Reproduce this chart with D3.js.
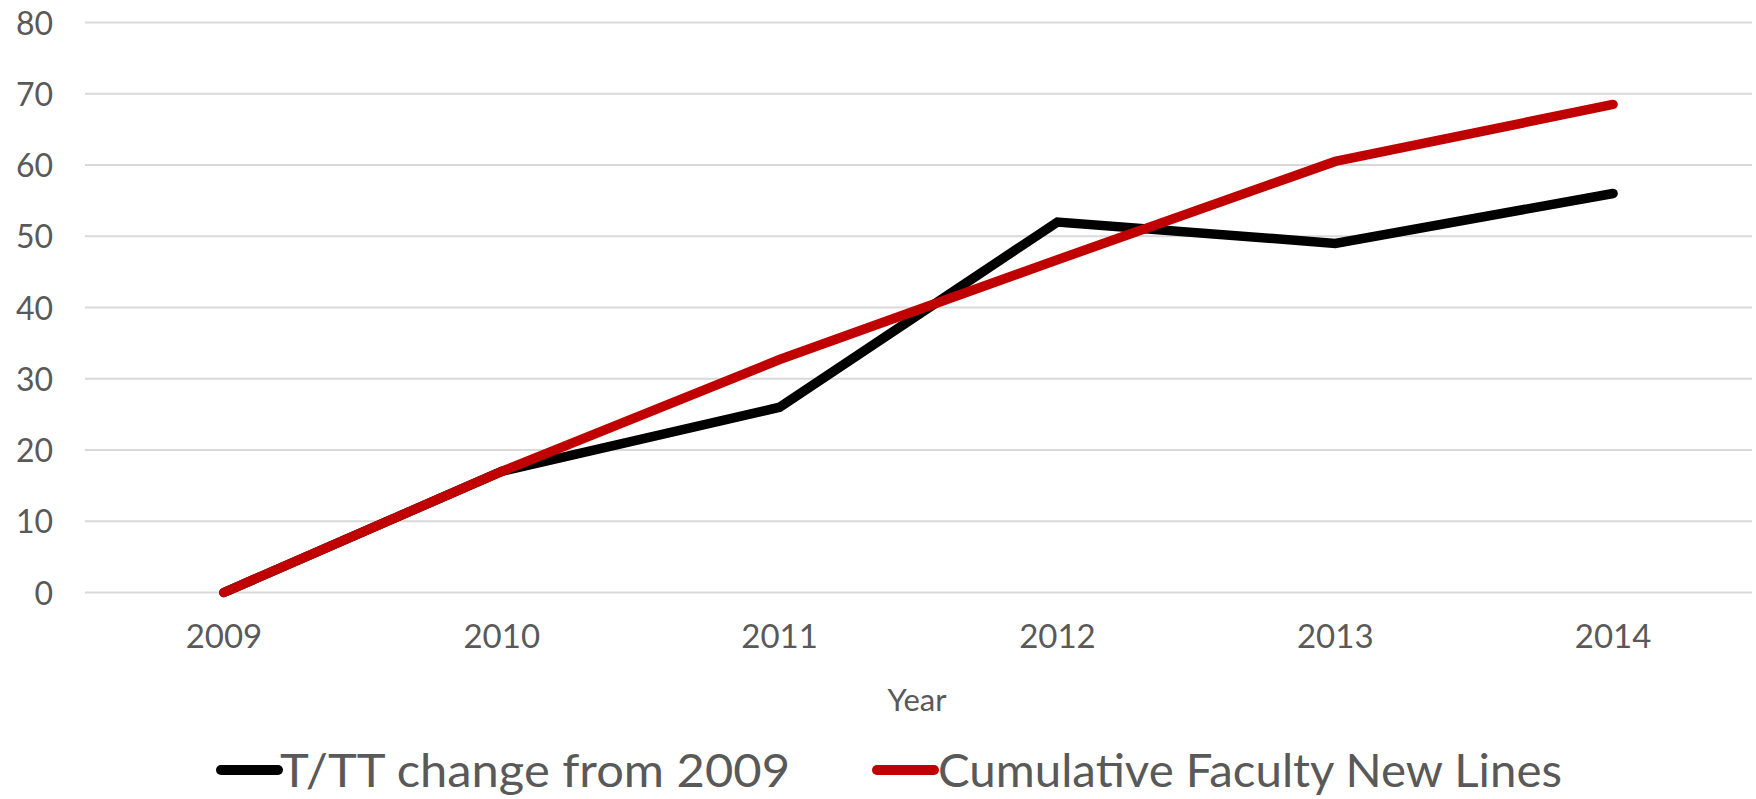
<!DOCTYPE html>
<html><head><meta charset="utf-8">
<script src="https://cdn.jsdelivr.net/npm/d3@7"></script>
<style>html,body{margin:0;padding:0;background:#fff;}svg{display:block;}</style>
</head><body>
<script>
const years = ["2009","2010","2011","2012","2013","2014"];
const ttChange = [0, 17, 26, 52, 49, 56];
const cumulativeLines = [0, 17, 32.7, 46.7, 60.5, 68.5];
const yTicks = [0,10,20,30,40,50,60,70,80];
const seriesNames = ["T/TT change from 2009", "Cumulative Faculty New Lines"];
const seriesColors = ["#000000", "#c00000"];

const W = 1756, H = 799;
const svg = d3.select("body").append("svg").attr("width", W).attr("height", H);
const x = d3.scaleBand().domain(years).range([85, 1752]).padding(0);
const y = d3.scaleLinear().domain([0, 80]).range([592.5, 22.5]);
const font = "Lato, 'Open Sans', sans-serif";
const txt = "#595959";

// grid
svg.append("g").selectAll("line").data(yTicks).join("line")
  .attr("x1", 85).attr("x2", 1752)
  .attr("y1", d => y(d)).attr("y2", d => y(d))
  .attr("stroke", "#d9d9d9").attr("stroke-width", 2);

// y axis labels
const yAxis = d3.axisLeft(y).tickValues(yTicks).tickSize(0).tickPadding(0);
const ya = svg.append("g").attr("transform", "translate(53,0)").call(yAxis);
ya.select(".domain").remove();
ya.selectAll("text").attr("font-family", font).attr("font-size", 32).attr("fill", txt).attr("dy", "0.36em");

// x axis labels
const xAxis = d3.axisBottom(x).tickSize(0).tickPadding(0);
const xa = svg.append("g").attr("transform", "translate(0,636)").call(xAxis);
xa.select(".domain").remove();
xa.selectAll("text").attr("font-family", font).attr("font-size", 33).attr("fill", txt).attr("dy", "0.36em");

svg.append("text").attr("x", 917).attr("y", 700).attr("dy", "0.36em").attr("text-anchor", "middle")
  .attr("font-family", font).attr("font-size", 31).attr("fill", txt).text("Year");

const line = d3.line().x((d, i) => x(years[i]) + x.bandwidth() / 2).y(d => y(d));
[ttChange, cumulativeLines].forEach((s, k) => {
  svg.append("path").datum(s).attr("d", line).attr("fill", "none")
    .attr("stroke", seriesColors[k]).attr("stroke-width", 9.5)
    .attr("stroke-linecap", "round").attr("stroke-linejoin", "miter");
});

// legend
const legX = [[221, 278, 280, 790], [877, 934, 938, 1562]];
seriesNames.forEach((n, k) => {
  const [a, b, t0, t1] = legX[k];
  svg.append("line").attr("x1", a).attr("x2", b).attr("y1", 770).attr("y2", 770)
    .attr("stroke", seriesColors[k]).attr("stroke-width", 10).attr("stroke-linecap", "round");
  svg.append("text").attr("x", t0).attr("y", 770).attr("dy", "0.36em")
    .attr("font-family", font).attr("font-size", 47).attr("fill", txt)
    .attr("textLength", t1 - t0).attr("lengthAdjust", "spacingAndGlyphs").text(n);
});
</script>
</body></html>
